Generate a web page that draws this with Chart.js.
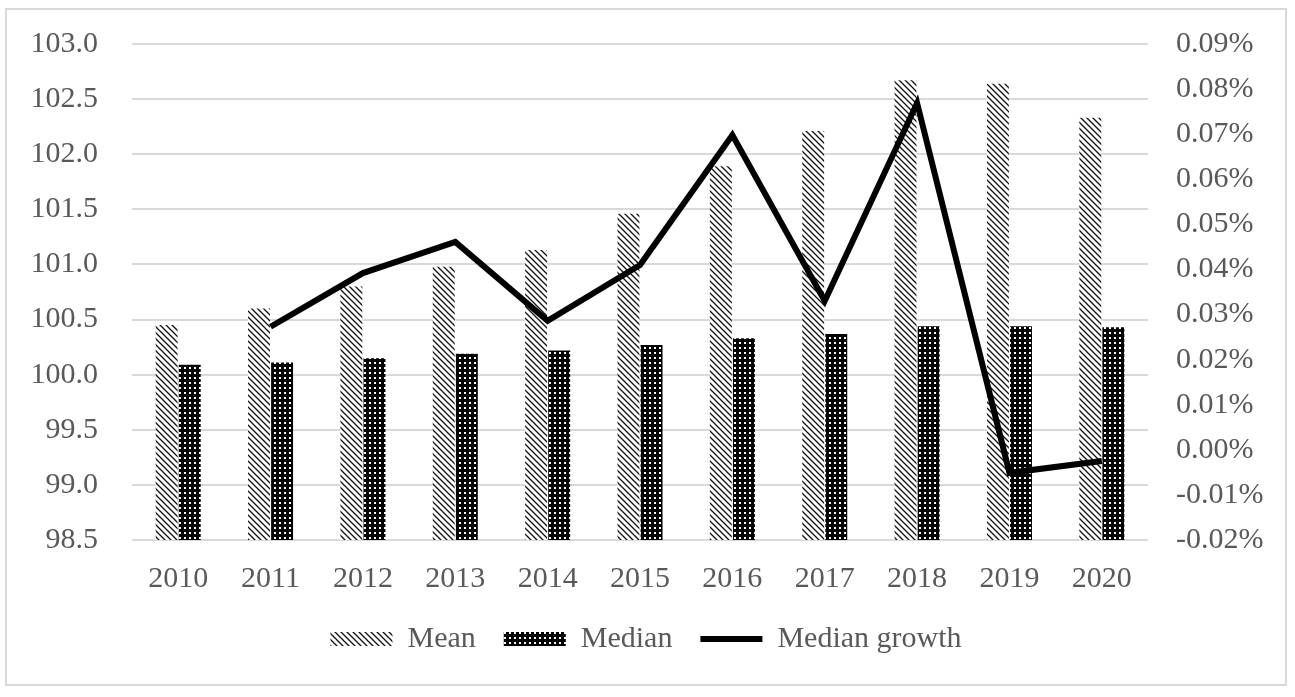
<!DOCTYPE html>
<html>
<head>
<meta charset="utf-8">
<script src="https://cdn.jsdelivr.net/npm/chart.js@4/dist/chart.umd.min.js"></script>
<style>
  body { margin: 0; background: #fff; }
  #box { position: absolute; left: 5px; top: 8px; width: 1278px; height: 674px; border: 2px solid #d9d9d9; }
</style>
</head>
<body>
<div id="box"><canvas id="myChart" width="1278" height="674"></canvas></div>
<script>
// years
var years = ['2010','2011','2012','2013','2014','2015','2016','2017','2018','2019','2020'];
// mean values (left axis)
var meanVals = [100.45, 100.60, 100.80, 100.98, 101.13, 101.46, 101.89, 102.21, 102.67, 102.64, 102.33];
// median values (left axis)
var medianVals = [100.09, 100.11, 100.15, 100.19, 100.22, 100.27, 100.33, 100.37, 100.44, 100.44, 100.43];
// median growth in % (right axis)
var growthVals = [null, 0.0273, 0.0392, 0.0461, 0.0286, 0.0410, 0.0698, 0.0330, 0.0769, -0.0051, -0.0025];

// hatch for mean
function hatch() {
  var c = document.createElement('canvas');
  c.width = 6; c.height = 6;
  var x = c.getContext('2d');
  x.fillStyle = '#fff';
  x.fillRect(0, 0, 6, 6);
  x.strokeStyle = '#111';
  x.lineWidth = 1.3;
  x.beginPath();
  x.moveTo(-1, -1); x.lineTo(7, 7);
  x.moveTo(-1, 5); x.lineTo(1, 7);
  x.moveTo(5, -1); x.lineTo(7, 1);
  x.stroke();
  return x.createPattern(c, 'repeat');
}
// dotted black for median
function dots() {
  var c = document.createElement('canvas');
  c.width = 5; c.height = 5;
  var x = c.getContext('2d');
  x.fillStyle = '#000';
  x.fillRect(0, 0, 5, 5);
  x.fillStyle = '#fff';
  x.fillRect(2, 2, 2, 2);
  return x.createPattern(c, 'repeat');
}
var meanFill = hatch();
var medianFill = dots();

var tickFont = { family: 'Liberation Serif', size: 30 };

// fixed side widths, no label overflow padding
function fitY(w) {
  return function(s) { s.width = w; s.paddingTop = 0; s.paddingBottom = 0; };
}

var ctx = document.getElementById('myChart').getContext('2d');
var myChart = new Chart(ctx, {
    type: 'bar',
    data: {
        labels: years,
        datasets: [{
            label: 'Mean',
            data: meanVals,
            backgroundColor: meanFill,
            borderWidth: 0,
            yAxisID: 'y',
            order: 1
        }, {
            label: 'Median',
            data: medianVals,
            backgroundColor: medianFill,
            borderWidth: 0,
            yAxisID: 'y',
            order: 1
        }, {
            type: 'line',
            label: 'Median growth',
            data: growthVals,
            borderColor: '#000',
            backgroundColor: '#000',
            borderWidth: 6,
            pointRadius: 0,
            tension: 0,
            yAxisID: 'y1',
            order: 0
        }]
    },
    options: {
        responsive: false,
        devicePixelRatio: 1,
        animation: false,
        categoryPercentage: 0.5,
        barPercentage: 0.95,
        layout: { padding: { top: 34, left: 0, right: 0, bottom: 20 } },
        plugins: {
            tooltip: { enabled: false },
            legend: {
                position: 'bottom',
                labels: {
                    color: '#595959',
                    font: tickFont,
                    usePointStyle: true,
                    pointStyleWidth: 62,
                    boxHeight: 14,
                    padding: 28,
                    sort: function(a, b) { return a.datasetIndex - b.datasetIndex; },
                    generateLabels: function(chart) {
                        var items = Chart.defaults.plugins.legend.labels.generateLabels(chart);
                        items.forEach(function(it) {
                            if (it.datasetIndex < 2) { it.pointStyle = 'rect'; it.lineWidth = 0; }
                            else { it.pointStyle = 'line'; it.lineWidth = 6; it.strokeStyle = '#000'; }
                        });
                        return items;
                    }
                }
            }
        },
        scales: {
            x: {
                grid: { display: false, drawTicks: false },
                border: { display: false },
                ticks: { color: '#595959', font: tickFont, padding: 21 },
                afterFit: function(s) { s.height = 56; }
            },
            y: {
                position: 'left',
                min: 98.5,
                max: 103,
                grid: { color: '#d9d9d9', lineWidth: 2, drawTicks: false },
                border: { display: false },
                ticks: {
                    stepSize: 0.5,
                    color: '#595959',
                    font: tickFont,
                    padding: 34,
                    callback: function(v) { return v.toFixed(1); }
                },
                afterFit: fitY(125)
            },
            y1: {
                position: 'right',
                min: -0.02,
                max: 0.09,
                grid: { display: false, drawTicks: false },
                border: { display: false },
                ticks: {
                    stepSize: 0.01,
                    color: '#595959',
                    font: tickFont,
                    padding: 28,
                    callback: function(v) { return v.toFixed(2) + '%'; }
                },
                afterFit: fitY(137)
            }
        }
    }
});
</script>
</body>
</html>
